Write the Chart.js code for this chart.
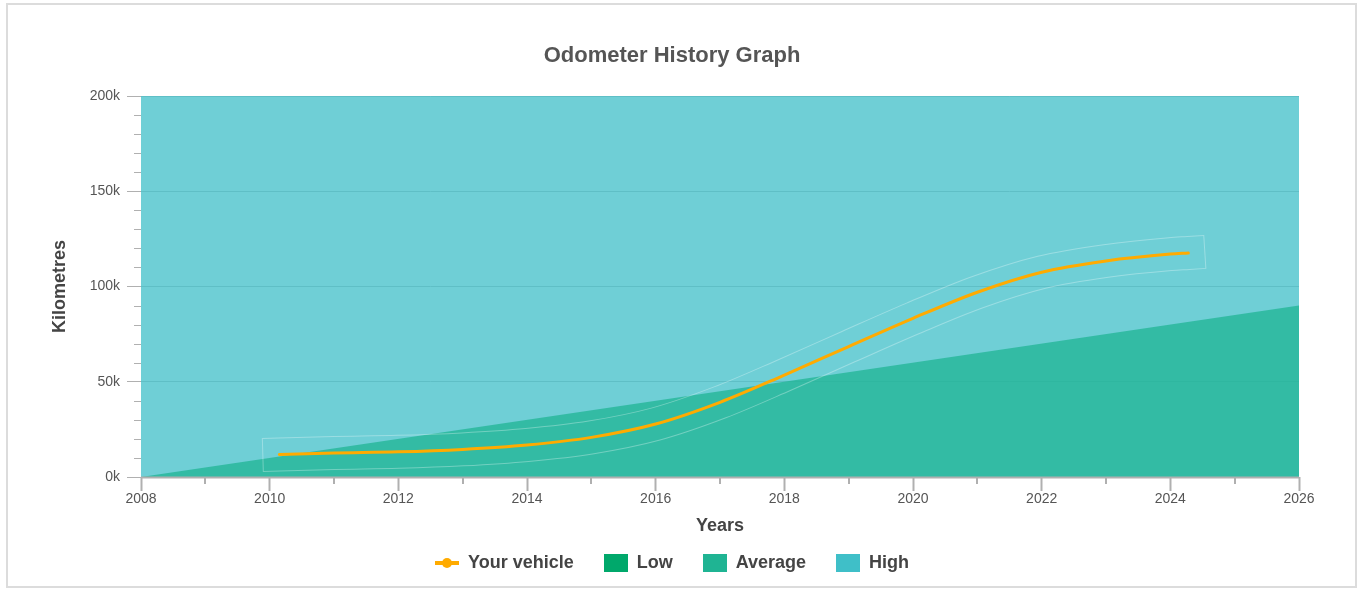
<!DOCTYPE html>
<html>
<head>
<meta charset="utf-8">
<title>Odometer History Graph</title>
<script src="https://cdn.jsdelivr.net/npm/chart.js@4.4.1/dist/chart.umd.min.js"></script>
<style>
  html, body { margin: 0; padding: 0; background: #fff; }
  canvas { display: block; }
</style>
</head>
<body>
<canvas id="odoChart" width="1364" height="592"></canvas>
<script>
// Werte (km)
const vehicleYears = [2010.15, 2011, 2012, 2013, 2014, 2015, 2016, 2017, 2018, 2019, 2020, 2021, 2022, 2023, 2024, 2024.28];
const vehicleKm    = [11800, 12600, 13200, 14500, 16800, 20800, 27800, 39200, 53500, 68500, 83300, 97000, 107500, 113400, 117000, 117600];

// "Low" ist im Bild nicht zu sehen (liegt komplett unter den anderen Flächen)
const lowYears = [];
const lowKm    = [];

const averageYears = [2008, 2026];
const averageKm    = [0, 90000];

const highYears = [2008, 2026];
const highKm    = [200000, 200000];

const seriesLabels = ['Your vehicle', 'Low', 'Average', 'High'];
const seriesColors = ['#ffab00', '#00a86b', '#1fb493', '#3fbfc8'];

const yearMin = 2008, yearMax = 2026, yearStep = 2;
const kmMax = 200000, kmStep = 50000, kmMinorStep = 10000;

const toPoints = (xs, ys) => xs.map((x, i) => ({ x: x, y: ys[i] }));

function rgba(hex, a) {
    const n = parseInt(hex.slice(1), 16);
    return `rgba(${(n >> 16) & 255}, ${(n >> 8) & 255}, ${n & 255}, ${a})`;
}

// Legenden-Symbole
function boxIcon(color) {
    const c = document.createElement('canvas');
    c.width = 24; c.height = 18;
    const g = c.getContext('2d');
    g.fillStyle = color;
    g.fillRect(0, 0, 24, 18);
    return c;
}
function lineIcon(color) {
    const c = document.createElement('canvas');
    c.width = 24; c.height = 18;
    const g = c.getContext('2d');
    g.strokeStyle = color;
    g.lineWidth = 4;
    g.beginPath(); g.moveTo(0, 9); g.lineTo(24, 9); g.stroke();
    g.fillStyle = color;
    g.beginPath(); g.arc(12, 9, 5, 0, Math.PI * 2); g.fill();
    return c;
}
const legendIcons = [lineIcon(seriesColors[0]), boxIcon(seriesColors[1]), boxIcon(seriesColors[2]), boxIcon(seriesColors[3])];

// Rahmen + weisser Hintergrund
const framePlugin = {
    id: 'frame',
    beforeDraw(chart) {
        const ctx = chart.ctx;
        ctx.save();
        ctx.fillStyle = '#fff';
        ctx.fillRect(0, 0, chart.width, chart.height);
        ctx.strokeStyle = '#dcdcdc';
        ctx.lineWidth = 2;
        ctx.strokeRect(7, 4, chart.width - 15, chart.height - 9);
        ctx.restore();
    }
};

// x-Achsenlinie und kleine Zwischenstriche
const axisPlugin = {
    id: 'axisMinor',
    afterDatasetsDraw(chart) {
        const { ctx, chartArea, scales } = chart;
        ctx.save();
        ctx.strokeStyle = '#b0b0b0';
        ctx.lineWidth = 2;
        ctx.beginPath();
        ctx.moveTo(chartArea.left, chartArea.bottom + 0.5);
        ctx.lineTo(chartArea.right, chartArea.bottom + 0.5);
        ctx.stroke();

        for (let yr = yearMin + 1; yr < yearMax; yr += yearStep) {
            const x = Math.round(scales.x.getPixelForValue(yr));
            ctx.beginPath();
            ctx.moveTo(x, chartArea.bottom);
            ctx.lineTo(x, chartArea.bottom + 7);
            ctx.stroke();
        }
        ctx.lineWidth = 1;
        for (let v = kmMinorStep; v < kmMax; v += kmMinorStep) {
            if (v % kmStep === 0) continue;
            const y = Math.round(scales.y.getPixelForValue(v)) + 0.5;
            ctx.beginPath();
            ctx.moveTo(chartArea.left - 7, y);
            ctx.lineTo(chartArea.left, y);
            ctx.stroke();
        }
        ctx.restore();
    }
};

// heller Umriss um die Fahrzeuglinie (aus dem Pfad des Datensatzes)
const bandPlugin = {
    id: 'vehicleBand',
    afterDatasetsDraw(chart) {
        const line = chart.getDatasetMeta(0).dataset;
        if (!line) return;
        const off = document.createElement('canvas');
        off.width = chart.width; off.height = chart.height;
        const o = off.getContext('2d');
        o.beginPath();
        line.path(o);
        o.lineCap = 'square';
        o.lineJoin = 'round';
        o.strokeStyle = '#fff';
        o.lineWidth = 34;
        o.stroke();
        o.globalCompositeOperation = 'destination-out';
        o.lineWidth = 32;
        o.stroke();
        const ctx = chart.ctx;
        ctx.save();
        ctx.globalAlpha = 0.3;
        ctx.drawImage(off, 0, 0);
        ctx.restore();
    }
};

Chart.defaults.font.family = "'Liberation Sans', Arial, Helvetica, sans-serif";

new Chart(document.getElementById('odoChart'), {
    type: 'line',
    data: {
        datasets: [
            {
                label: seriesLabels[0],
                data: toPoints(vehicleYears, vehicleKm),
                borderColor: seriesColors[0],
                backgroundColor: seriesColors[0],
                borderWidth: 3,
                borderCapStyle: 'round',
                pointRadius: 0,
                cubicInterpolationMode: 'monotone',
                fill: false,
                order: 0
            },
            {
                label: seriesLabels[1],
                data: toPoints(lowYears, lowKm),
                backgroundColor: rgba(seriesColors[1], 0.75),
                borderWidth: 0,
                pointRadius: 0,
                fill: 'origin',
                order: 3
            },
            {
                label: seriesLabels[2],
                data: toPoints(averageYears, averageKm),
                backgroundColor: rgba(seriesColors[2], 0.75),
                borderWidth: 0,
                pointRadius: 0,
                fill: 'origin',
                order: 1
            },
            {
                label: seriesLabels[3],
                data: toPoints(highYears, highKm),
                backgroundColor: rgba(seriesColors[3], 0.75),
                borderWidth: 0,
                pointRadius: 0,
                fill: 'origin',
                order: 2
            }
        ]
    },
    options: {
        responsive: false,
        devicePixelRatio: 1,
        animation: false,
        events: [],
        layout: { padding: { left: 45, right: 65, top: 0, bottom: 10 } },
        scales: {
            x: {
                type: 'linear',
                min: yearMin,
                max: yearMax,
                afterFit: s => { s.height = 47; },
                ticks: {
                    stepSize: yearStep,
                    autoSkip: false,
                    maxRotation: 0,
                    padding: 0,
                    color: '#555',
                    font: { size: 14 },
                    callback: v => String(v)
                },
                grid: {
                    drawOnChartArea: false,
                    drawTicks: true,
                    tickLength: 14,
                    tickColor: '#b0b0b0',
                    tickWidth: 2
                },
                border: { display: false },
                title: {
                    display: true,
                    text: 'Years',
                    color: '#444',
                    font: { size: 18, weight: 'bold' },
                    padding: { top: 0, bottom: -13 }
                }
            },
            y: {
                min: 0,
                max: kmMax,
                afterFit: s => { s.width = 96; },
                ticks: {
                    stepSize: kmStep,
                    padding: 7,
                    color: '#555',
                    font: { size: 14 },
                    callback: v => (v / 1000) + 'k'
                },
                grid: {
                    color: '#c0c0c0',
                    lineWidth: 1,
                    tickLength: 14,
                    tickColor: '#b0b0b0'
                },
                border: { display: false },
                title: {
                    display: true,
                    text: 'Kilometres',
                    color: '#444',
                    font: { size: 18, weight: 'bold' },
                    padding: { top: 4, bottom: 0 }
                }
            }
        },
        plugins: {
            title: {
                display: true,
                text: 'Odometer History Graph',
                color: '#555',
                font: { size: 22, weight: 'bold' },
                padding: { top: 43, bottom: 26.6 }
            },
            legend: {
                position: 'bottom',
                labels: {
                    usePointStyle: true,
                    pointStyleWidth: 24,
                    boxHeight: 18,
                    padding: 30,
                    color: '#444',
                    font: { size: 18, weight: 'bold' },
                    generateLabels: chart => chart.data.datasets.map((ds, i) => ({
                        text: ds.label,
                        fontColor: '#444',
                        pointStyle: legendIcons[i],
                        fillStyle: seriesColors[i],
                        strokeStyle: 'transparent',
                        lineWidth: 0,
                        hidden: false,
                        datasetIndex: i
                    }))
                }
            },
            tooltip: { enabled: false }
        }
    },
    plugins: [framePlugin, axisPlugin, bandPlugin]
});
</script>
</body>
</html>
